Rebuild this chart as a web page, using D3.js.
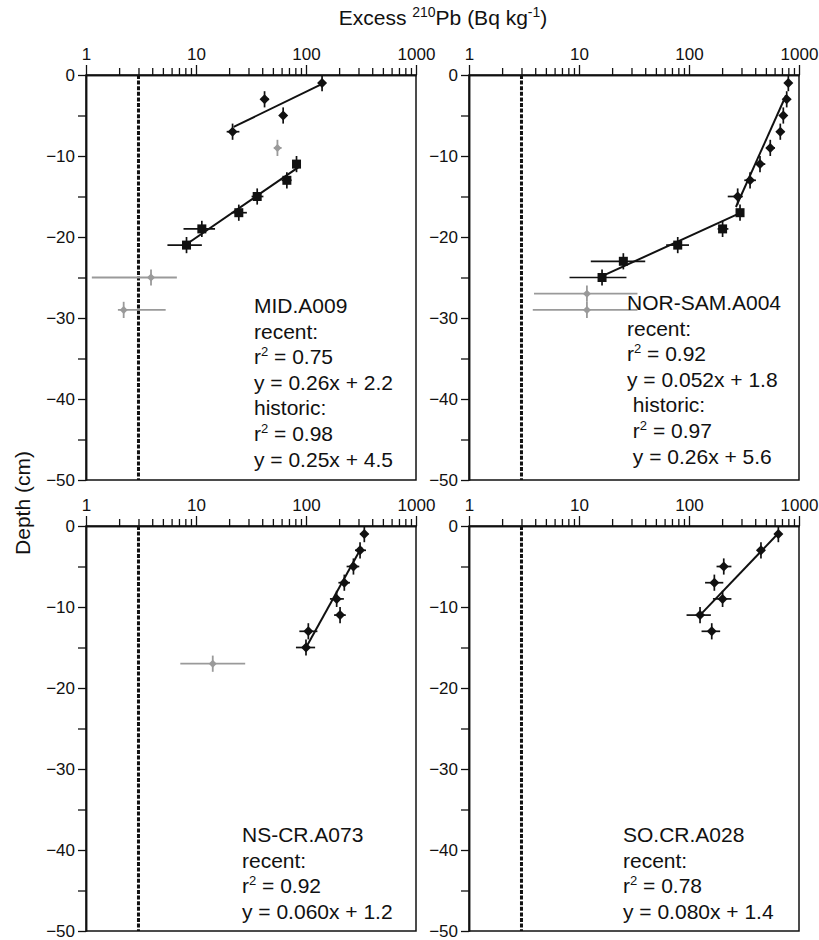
<!DOCTYPE html>
<html>
<head>
<meta charset="utf-8">
<script src="https://cdn.jsdelivr.net/npm/d3@7"></script>
<style>
  body { margin: 0; background: #fff; }
  svg { display: block; }
  text { font-family: "Liberation Sans", Arial, Helvetica, sans-serif; fill: #111; }
</style>
</head>
<body>
<svg id="chart" width="819" height="940"></svg>
<script>
// ---- axis ticks ----
const xMajorTicks = [1, 10, 100, 1000];
const xMinorTicks = [2, 3, 4, 5, 6, 7, 8, 9, 20, 30, 40, 50, 60, 70, 80, 90, 200, 300, 400, 500, 600, 700, 800, 900];
const depthMajorTicks = [0, -10, -20, -30, -40, -50];
const depthMinorTicks = [-5, -15, -25, -35, -45];
const detectionLimit = 3; // Bq kg-1

// ---- MID.A009 ---- (d: depth cm, v: excess 210Pb, lo/hi: horizontal error range)
const midRecent = [
  { d: -1, v: 140, lo: 130, hi: 151 },
  { d: -3, v: 42, lo: 39, hi: 46 },
  { d: -5, v: 62, lo: 58, hi: 67 },
  { d: -7, v: 21.5, lo: 19, hi: 24.8 }
];
const midHistoric = [
  { d: -11, v: 82, lo: 76, hi: 89 },
  { d: -13, v: 67, lo: 60, hi: 74 },
  { d: -15, v: 36, lo: 32, hi: 41 },
  { d: -17, v: 24.5, lo: 21, hi: 29 },
  { d: -19, v: 11.3, lo: 7.7, hi: 14.9 },
  { d: -21, v: 8.2, lo: 5.5, hi: 11.3 }
];
const midExcluded = [
  { d: -9, v: 55, lo: 51, hi: 60 },
  { d: -25, v: 3.9, lo: 1.13, hi: 6.7 },
  { d: -29, v: 2.2, lo: 1.95, hi: 5.3 }
];
const midFitRecent = [[-1.2, 136], [-6.4, 22]];
const midFitHistoric = [[-11.4, 85], [-20.9, 8.2]];
const midText = ["MID.A009", "recent:", "r2 = 0.75", "y = 0.26x + 2.2", "historic:", "r2 = 0.98", "y = 0.25x + 4.5"];

// ---- NOR-SAM.A004 ----
const norRecent = [
  { d: -1, v: 800, lo: 760, hi: 850 },
  { d: -3, v: 773, lo: 730, hi: 820 },
  { d: -5, v: 720, lo: 675, hi: 770 },
  { d: -7, v: 676, lo: 627, hi: 735 },
  { d: -9, v: 548, lo: 501, hi: 605 },
  { d: -11, v: 442, lo: 401, hi: 494 },
  { d: -13, v: 359, lo: 318, hi: 406 },
  { d: -15, v: 277, lo: 225, hi: 308 }
];
const norHistoric = [
  { d: -17, v: 291, lo: 270, hi: 312 },
  { d: -19, v: 202, lo: 182, hi: 228 },
  { d: -21, v: 79, lo: 62, hi: 100 },
  { d: -23, v: 25.3, lo: 12.8, hi: 40 },
  { d: -25, v: 16.2, lo: 8.2, hi: 27 }
];
const norExcluded = [
  { d: -27, v: 11.8, lo: 3.9, hi: 34 },
  { d: -29, v: 11.8, lo: 3.8, hi: 34 }
];
const norFitRecent = [[-2.5, 762], [-16.3, 267]];
const norFitHistoric = [[-17, 297], [-24.8, 16.4]];
const norText = ["NOR-SAM.A004", "recent:", "r2 = 0.92", "y = 0.052x + 1.8", " historic:", " r2 = 0.97", " y = 0.26x + 5.6"];

// ---- NS-CR.A073 ----
const nscRecent = [
  { d: -1, v: 339, lo: 310, hi: 368 },
  { d: -3, v: 310, lo: 279, hi: 351 },
  { d: -5, v: 270, lo: 234, hi: 305 },
  { d: -7, v: 223, lo: 197, hi: 251 },
  { d: -9, v: 190, lo: 165, hi: 221 },
  { d: -11, v: 204, lo: 180, hi: 230 },
  { d: -13, v: 105, lo: 87, hi: 127 },
  { d: -15, v: 100, lo: 81, hi: 121 }
];
const nscExcluded = [
  { d: -17, v: 14.2, lo: 7.2, hi: 28 }
];
const nscFitRecent = [[-2.6, 321], [-14.9, 101]];
const nscText = ["NS-CR.A073", "recent:", "r2 = 0.92", "y = 0.060x + 1.2"];

// ---- SO.CR.A028 ----
const socRecent = [
  { d: -1, v: 649, lo: 610, hi: 690 },
  { d: -3, v: 451, lo: 420, hi: 490 },
  { d: -5, v: 207, lo: 178, hi: 243 },
  { d: -7, v: 170, lo: 140, hi: 205 },
  { d: -9, v: 202, lo: 165, hi: 243 },
  { d: -11, v: 126, lo: 95, hi: 158 },
  { d: -13, v: 161, lo: 130, hi: 192 }
];
const socFitRecent = [[-0.9, 649], [-11, 126]];
const socText = ["SO.CR.A028", "recent:", "r2 = 0.78", "y = 0.080x + 1.4"];

// ---- layout ----
const W = 330, H = 405;
const panels = [
  { x0: 86, y0: 75, recent: midRecent, historic: midHistoric, excluded: midExcluded,
    fits: [midFitRecent, midFitHistoric], text: midText, tx: 168, ty: 238 },
  { x0: 469, y0: 75, recent: norRecent, historic: norHistoric, excluded: norExcluded,
    fits: [norFitRecent, norFitHistoric], text: norText, tx: 158, ty: 235 },
  { x0: 86, y0: 526, recent: nscRecent, historic: [], excluded: nscExcluded,
    fits: [nscFitRecent], text: nscText, tx: 156, ty: 316 },
  { x0: 469, y0: 526, recent: socRecent, historic: [], excluded: [],
    fits: [socFitRecent], text: socText, tx: 154, ty: 316 }
];

const svg = d3.select("#chart");
const FONT = '"Liberation Sans", Arial, Helvetica, sans-serif';
const GRAY = "#9a9a9a";

function styleAxis(g) {
  g.attr("font-size", 17).attr("font-family", FONT);
  g.select(".domain").attr("stroke", "#111").attr("stroke-width", 1.5);
  g.selectAll(".tick line").attr("stroke", "#111").attr("stroke-width", 1.3);
  g.selectAll(".tick text").attr("fill", "#111");
}

function diamond(r) {
  return `M0,${-r}L${r},0L0,${r}L${-r},0Z`;
}

function drawPanel(p) {
  const x = d3.scaleLog().domain([1, 1000]).range([p.x0, p.x0 + W]);
  const y = d3.scaleLinear().domain([0, -50]).range([p.y0, p.y0 + H]);
  const g = svg.append("g");

  // frame
  g.append("rect")
    .attr("x", p.x0).attr("y", p.y0).attr("width", W).attr("height", H)
    .attr("fill", "none").attr("stroke", "#111").attr("stroke-width", 1.5);

  // top log axis
  g.append("g").attr("transform", `translate(0,${p.y0})`)
    .call(d3.axisTop(x).tickValues(xMinorTicks).tickFormat("").tickSize(7).tickSizeOuter(0))
    .call(styleAxis);
  g.append("g").attr("transform", `translate(0,${p.y0})`)
    .call(d3.axisTop(x).tickValues(xMajorTicks).tickFormat(d3.format("d")).tickSize(10).tickSizeOuter(0).tickPadding(5))
    .call(styleAxis);

  // depth axis
  g.append("g").attr("transform", `translate(${p.x0},0)`)
    .call(d3.axisLeft(y).tickValues(depthMinorTicks).tickFormat("").tickSize(8).tickSizeOuter(0))
    .call(styleAxis);
  g.append("g").attr("transform", `translate(${p.x0},0)`)
    .call(d3.axisLeft(y).tickValues(depthMajorTicks).tickFormat(d3.format("d")).tickSize(8).tickSizeOuter(0).tickPadding(3))
    .call(styleAxis);

  // detection limit
  g.append("line")
    .attr("x1", x(detectionLimit)).attr("x2", x(detectionLimit))
    .attr("y1", p.y0).attr("y2", p.y0 + H)
    .attr("stroke", "#111").attr("stroke-width", 3).attr("stroke-dasharray", "4,1.6");

  // error bars
  function errorBars(data, color, width) {
    const eg = g.append("g").attr("stroke", color).attr("stroke-width", width);
    eg.selectAll("line.h").data(data).join("line").attr("class", "h")
      .attr("x1", d => x(d.lo)).attr("x2", d => x(d.hi))
      .attr("y1", d => y(d.d)).attr("y2", d => y(d.d));
    eg.selectAll("line.v").data(data).join("line").attr("class", "v")
      .attr("x1", d => x(d.v)).attr("x2", d => x(d.v))
      .attr("y1", d => y(d.d + 1)).attr("y2", d => y(d.d - 1));
  }
  errorBars(p.excluded, GRAY, 1.8);
  errorBars(p.recent, "#111", 1.7);
  errorBars(p.historic, "#111", 1.7);

  // regression lines
  const line = d3.line().x(d => x(d[1])).y(d => y(d[0]));
  p.fits.forEach(f => {
    g.append("path").attr("d", line(f)).attr("fill", "none")
      .attr("stroke", "#111").attr("stroke-width", 2);
  });

  // markers
  g.selectAll("path.ex").data(p.excluded).join("path").attr("class", "ex")
    .attr("d", diamond(4)).attr("fill", GRAY)
    .attr("transform", d => `translate(${x(d.v)},${y(d.d)})`);
  g.selectAll("path.rc").data(p.recent).join("path").attr("class", "rc")
    .attr("d", diamond(5)).attr("fill", "#111")
    .attr("transform", d => `translate(${x(d.v)},${y(d.d)})`);
  g.selectAll("rect.hs").data(p.historic).join("rect").attr("class", "hs")
    .attr("x", d => x(d.v) - 4.5).attr("y", d => y(d.d) - 4.5)
    .attr("width", 9).attr("height", 9).attr("fill", "#111");

  // statistics text
  const tg = g.append("g").attr("font-size", 21);
  p.text.forEach((s, i) => {
    const t = tg.append("text").attr("x", p.x0 + p.tx).attr("y", p.y0 + p.ty + i * 25.6)
      .attr("xml:space", "preserve");
    const m = s.match(/^(\s*)r2(.*)$/);
    if (m) {
      t.append("tspan").text(m[1] + "r");
      t.append("tspan").attr("font-size", 13).attr("dy", -8).text("2");
      t.append("tspan").attr("dy", 8).text(m[2]);
    } else {
      t.text(s);
    }
  });
}

panels.forEach(drawPanel);

// axis titles
const title = svg.append("text").attr("x", 443).attr("y", 25)
  .attr("text-anchor", "middle").attr("font-size", 21);
title.append("tspan").text("Excess ");
title.append("tspan").attr("font-size", 14).attr("dy", -8).text("210");
title.append("tspan").attr("dy", 8).text("Pb (Bq kg");
title.append("tspan").attr("font-size", 14).attr("dy", -8).text("-1");
title.append("tspan").attr("dy", 8).text(")");

svg.append("text")
  .attr("transform", "translate(30,503) rotate(-90)")
  .attr("text-anchor", "middle").attr("font-size", 21)
  .text("Depth (cm)");
</script>
</body>
</html>
